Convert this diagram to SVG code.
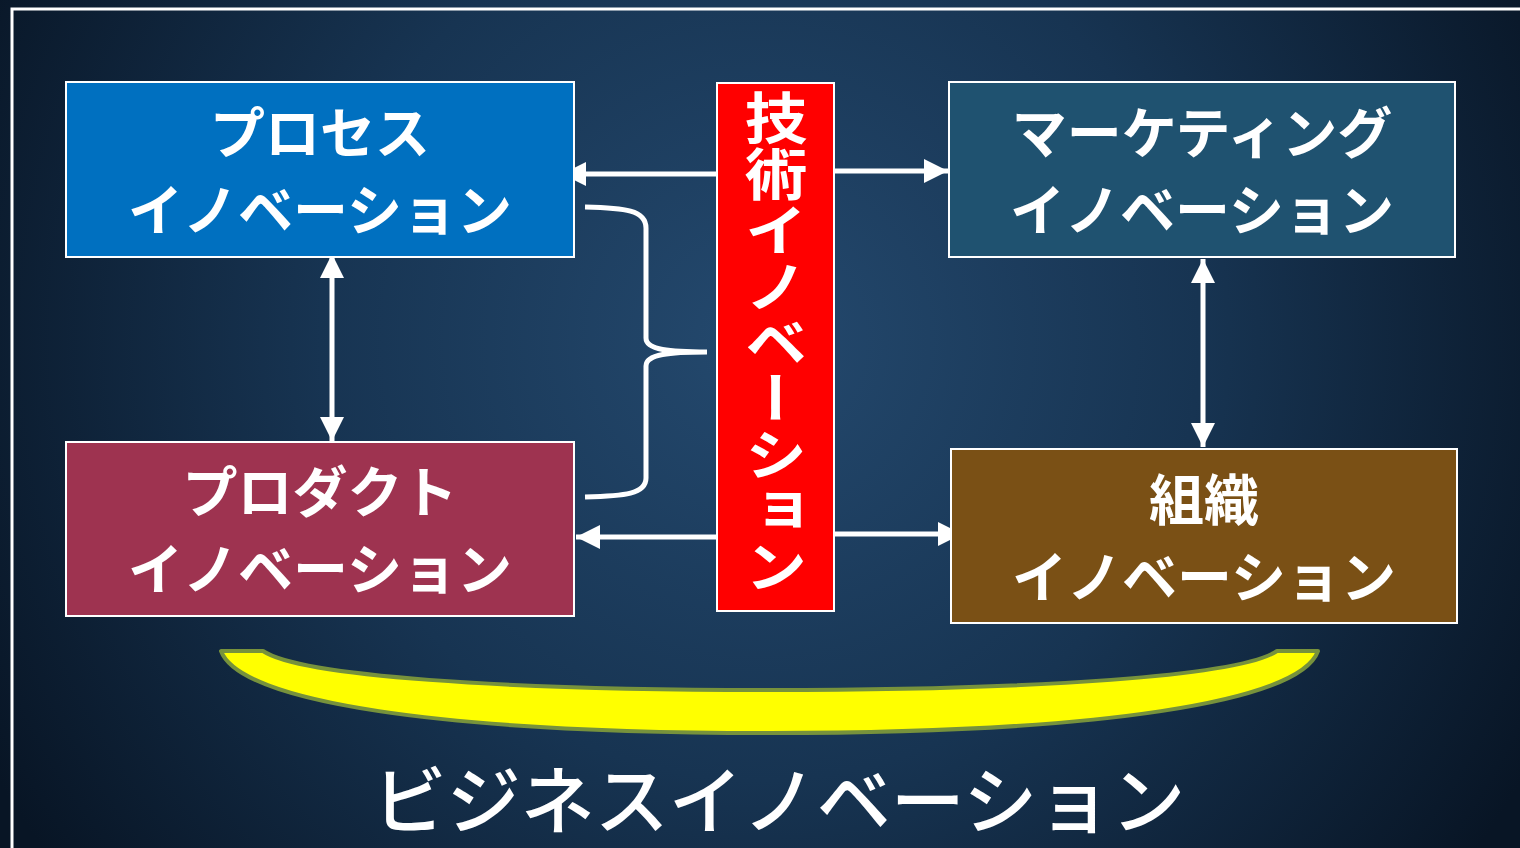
<svg xmlns="http://www.w3.org/2000/svg" width="1520" height="848" viewBox="0 0 1520 848">
<defs>
<radialGradient id="bg" cx="760" cy="340" r="880" gradientUnits="userSpaceOnUse">
<stop offset="0" stop-color="#24496E"/>
<stop offset="0.5" stop-color="#173452"/>
<stop offset="1" stop-color="#081525"/>
</radialGradient>
<marker id="ah" viewBox="0 0 24 24" refX="24" refY="12" markerWidth="24" markerHeight="24" markerUnits="userSpaceOnUse" orient="auto-start-reverse">
<path d="M0,0 L24,12 L0,24 Z" fill="#FFFFFF"/>
</marker>
</defs>
<style>
.box{stroke:#FFFFFF;stroke-width:2}
.lbl{font-family:"Noto Sans CJK JP","Noto Sans",sans-serif;font-weight:bold;fill:#FFFFFF;font-size:55px;text-anchor:middle}
.conn{stroke:#FFFFFF;stroke-width:5;fill:none}
</style>
<rect width="1520" height="848" fill="url(#bg)"/>
<path d="M12,848 L12,9 L1520,9" fill="none" stroke="#FFFFFF" stroke-width="3"/>

<g id="connectors">
<line class="conn" x1="717" y1="174" x2="562" y2="174" marker-end="url(#ah)"/>
<line class="conn" x1="834" y1="171" x2="948" y2="171" marker-end="url(#ah)"/>
<line class="conn" x1="717" y1="537" x2="576" y2="537" marker-end="url(#ah)"/>
<line class="conn" x1="834" y1="534" x2="962" y2="534" marker-end="url(#ah)"/>
<line class="conn" x1="332" y1="254" x2="332" y2="441" marker-start="url(#ah)" marker-end="url(#ah)"/>
<line class="conn" x1="1203" y1="259" x2="1203" y2="447" marker-start="url(#ah)" marker-end="url(#ah)"/>
<path class="conn" d="M585,207 C625,208 646,210 646,228 L646,338 C646,350 670,352 707,352 C670,352 646,354 646,366 L646,478 C646,494 625,496 585,497"/>
</g>

<g id="process">
<rect class="box" x="66" y="82" width="508" height="175" fill="#0070C0"/>
<text class="lbl" x="320" y="153">プロセス</text>
<text class="lbl" x="320" y="230">イノベーション</text>
</g>
<g id="product">
<rect class="box" x="66" y="442" width="508" height="174" fill="#9E3350"/>
<text class="lbl" x="320" y="512">プロダクト</text>
<text class="lbl" x="320" y="589">イノベーション</text>
</g>
<g id="marketing">
<rect class="box" x="949" y="82" width="506" height="175" fill="#1F5270"/>
<text class="lbl" x="1202" y="153">マーケティング</text>
<text class="lbl" x="1202" y="230">イノベーション</text>
</g>
<g id="organization">
<rect class="box" x="951" y="449" width="506" height="174" fill="#7A5015"/>
<text class="lbl" x="1204" y="520">組織</text>
<text class="lbl" x="1204" y="597">イノベーション</text>
</g>
<g id="tech">
<rect class="box" x="717" y="83" width="117" height="528" fill="#FF0000"/>
<text class="lbl" x="776" y="90" transform="translate(776,0) scale(1.12,1) translate(-776,0)" style="writing-mode:vertical-rl;text-orientation:upright;text-anchor:start;font-size:56px;letter-spacing:0px">技術イノベーション</text>
</g>
<g id="business">
<path d="M221,651 L263,651 C300,676 500,690 770,690 C1040,690 1240,676 1277,651 L1318,651 C1300,702 1100,733 770,733 C440,733 240,702 221,651 Z" fill="#FFFF00" stroke="#77923C" stroke-width="4" stroke-linejoin="round"/>
<text x="779" y="828" style="font-family:'Noto Sans CJK JP','Noto Sans',sans-serif;font-weight:500;font-size:74px;fill:#FFFFFF;text-anchor:middle">ビジネスイノベーション</text>
</g>
</svg>
